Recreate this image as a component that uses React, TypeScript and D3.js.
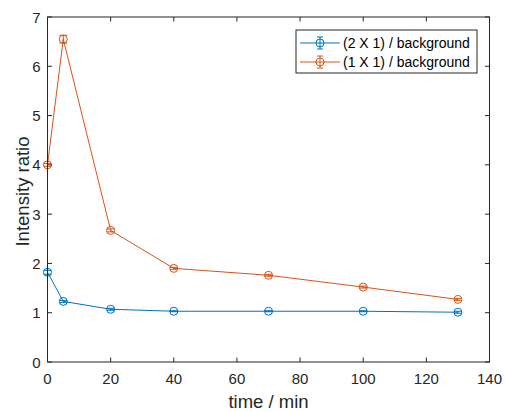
import React from "react";
import * as d3 from "d3";

const times = [0, 5, 20, 40, 70, 100, 130];
const blueValues = [1.82, 1.23, 1.07, 1.03, 1.03, 1.03, 1.01];
const blueErrors = [0.04, 0.02, 0.02, 0.01, 0.01, 0.01, 0.02];
const orangeValues = [4.0, 6.55, 2.67, 1.9, 1.76, 1.52, 1.27];
const orangeErrors = [0.03, 0.08, 0.03, 0.02, 0.02, 0.02, 0.02];
const seriesNames = ["(2 X 1) / background", "(1 X 1) / background"];
const xTicks = [0, 20, 40, 60, 80, 100, 120, 140];
const yTicks = [0, 1, 2, 3, 4, 5, 6, 7];

const W = 505, H = 412;
const L = 47.5, R = 489.5, T = 17, B = 362;
const font = "'Liberation Sans', Arial, sans-serif";
const axisColor = "#262626";
const colors = ["#0072BD", "#D95319"];

export default function App() {
  const x = d3.scaleLinear().domain([0, 140]).range([L, R]);
  const y = d3.scaleLinear().domain([0, 7]).range([B, T]);
  const line = d3.line<number>().x((_, i) => x(times[i])).y((d) => y(d));
  const series = [
    { vals: blueValues, errs: blueErrors, color: colors[0] },
    { vals: orangeValues, errs: orangeErrors, color: colors[1] },
  ];
  const capW = 4;
  const r = 4;
  return (
    <svg width={W} height={H} style={{ position: "absolute", left: 0, top: 0 }}>
      <rect x={0} y={0} width={W} height={H} fill="#fff" />
      {series.map((s, si) => (
        <g key={si}>
          <path d={line(s.vals) || ""} fill="none" stroke={s.color} strokeWidth={1} />
          {s.vals.map((v, i) => {
            const cx = x(times[i]);
            const y1 = y(v - s.errs[i]);
            const y2 = y(v + s.errs[i]);
            return (
              <g key={i} stroke={s.color} strokeWidth={1} fill="none">
                <line x1={cx} x2={cx} y1={y1} y2={y2} />
                <line x1={cx - capW} x2={cx + capW} y1={y1} y2={y1} />
                <line x1={cx - capW} x2={cx + capW} y1={y2} y2={y2} />
                <circle cx={cx} cy={y(v)} r={r} />
              </g>
            );
          })}
        </g>
      ))}
      <rect x={L} y={T} width={R - L} height={B - T} fill="none" stroke={axisColor} strokeWidth={1} />
      {xTicks.map((t) => (
        <g key={"x" + t}>
          <line x1={x(t)} x2={x(t)} y1={B} y2={B - 4.5} stroke={axisColor} />
          <line x1={x(t)} x2={x(t)} y1={T} y2={T + 4.5} stroke={axisColor} />
          <text x={x(t)} y={B + 22} textAnchor="middle" fontFamily={font} fontSize={15} fill={axisColor}>
            {t}
          </text>
        </g>
      ))}
      {yTicks.map((t) => (
        <g key={"y" + t}>
          <line x1={L} x2={L + 4.5} y1={y(t)} y2={y(t)} stroke={axisColor} />
          <line x1={R} x2={R - 4.5} y1={y(t)} y2={y(t)} stroke={axisColor} />
          <text x={L - 7} y={y(t) + 5.5} textAnchor="end" fontFamily={font} fontSize={15} fill={axisColor}>
            {t}
          </text>
        </g>
      ))}
      <text x={(L + R) / 2} y={408} textAnchor="middle" fontFamily={font} fontSize={18.5} fill={axisColor}>
        time / min
      </text>
      <text
        transform={`translate(29,${(T + B) / 2 + 2}) rotate(-90)`}
        textAnchor="middle"
        fontFamily={font}
        fontSize={18.5}
        fill={axisColor}
      >
        Intensity ratio
      </text>
      <rect x={296} y={30} width={181} height={43} fill="#fff" stroke={axisColor} strokeWidth={1} />
      {series.map((s, si) => {
        const ly = 43 + si * 19;
        return (
          <g key={"l" + si}>
            <g stroke={s.color} strokeWidth={1} fill="none">
              <line x1={300} x2={340} y1={ly} y2={ly} />
              <line x1={320} x2={320} y1={ly - 6} y2={ly + 6} />
              <line x1={317} x2={323} y1={ly - 6} y2={ly - 6} />
              <line x1={317} x2={323} y1={ly + 6} y2={ly + 6} />
              <circle cx={320} cy={ly} r={r} />
            </g>
            <text x={343} y={ly + 5} fontFamily={font} fontSize={14} fill="#000">
              {seriesNames[si]}
            </text>
          </g>
        );
      })}
    </svg>
  );
}
